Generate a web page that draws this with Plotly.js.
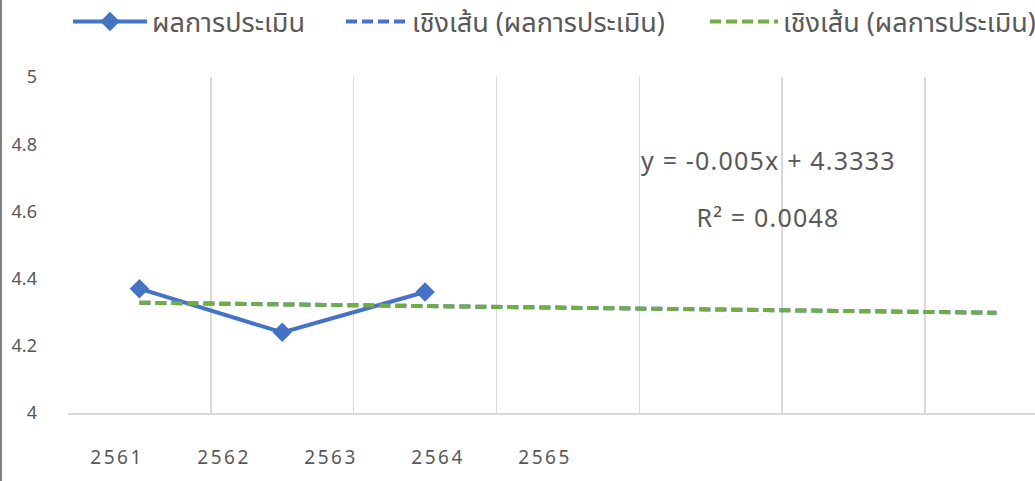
<!DOCTYPE html>
<html>
<head>
<meta charset="utf-8">
<script src="https://cdn.plot.ly/plotly-3.0.1.min.js"></script>
<style>
  html, body { margin: 0; padding: 0; background: #fff; }
  #chart { width: 1035px; height: 481px; }
  #edge { position: absolute; left: 0; top: 0; width: 2px; height: 481px; background: #7f7f7f; }
  #chart .x2tick text { letter-spacing: 2.5px; }
  #chart .annotation-text { letter-spacing: 1.2px; }
</style>
</head>
<body>
<div id="chart"></div>
<div id="edge"></div>
<script>
// ---- data ----
const years = ['2561', '2562', '2563', '2564', '2565'];
const yearPos = [1, 2, 3, 4, 5];
const scoreX = [1, 2, 3];
const scoreY = [4.37, 4.24, 4.36];
const trendX = [1, 7];
const trendY = [4.3283, 4.2983];
const seriesName = 'ผลการประเมิน';
const trendName = 'เชิงเส้น (ผลการประเมิน)';
const eqText = 'y = -0.005x + 4.3333';
const r2Text = 'R² = 0.0048';
const gridPos = [1.5, 2.5, 3.5, 4.5, 5.5, 6.5];

const FONT = 'Noto Sans, Noto Sans Thai, Tahoma, sans-serif';
const GREY = '#595959';
const BLUE = '#4472C4';
const GREEN = '#70AD47';

const traces = [
  {
    x: scoreX, y: scoreY, name: seriesName, type: 'scatter', mode: 'lines+markers',
    line: {color: BLUE, width: 4},
    marker: {symbol: 'diamond', size: 15, color: BLUE},
    legend: 'legend', hoverinfo: 'x+y'
  },
  {
    x: trendX, y: trendY, name: trendName, type: 'scatter', mode: 'lines',
    line: {color: BLUE, width: 4, dash: '11px,5px'},
    legend: 'legend2'
  },
  {
    x: trendX, y: trendY, name: trendName, type: 'scatter', mode: 'lines',
    line: {color: GREEN, width: 4, dash: '11px,5px'},
    legend: 'legend3'
  },
  { x: [], y: [], xaxis: 'x2', yaxis: 'y', showlegend: false, hoverinfo: 'skip', type: 'scatter' }
];

const legendBase = {
  orientation: 'h', xref: 'container', yref: 'container', yanchor: 'middle', y: 1 - 22/481,
  font: {family: FONT, size: 27, color: GREY}, bgcolor: 'rgba(0,0,0,0)', xanchor: 'left'
};

const layout = {
  width: 1035, height: 481,
  margin: {l: 68, r: 0, t: 77, b: 68},
  paper_bgcolor: '#fff', plot_bgcolor: '#fff',
  font: {family: FONT, color: GREY},
  showlegend: true,
  legend: Object.assign({}, legendBase, {x: 68/1035, itemwidth: 74}),
  legend2: Object.assign({}, legendBase, {x: 341/1035, itemwidth: 61}),
  legend3: Object.assign({}, legendBase, {x: 705/1035, itemwidth: 68}),
  xaxis: {
    range: [0.5, 7.27], tickmode: 'array', tickvals: gridPos, showticklabels: false,
    showgrid: true, gridcolor: '#d9d9d9', gridwidth: 1.5,
    showline: true, linecolor: '#d9d9d9', linewidth: 1.5, ticks: '', zeroline: false, fixedrange: true
  },
  xaxis2: {
    overlaying: 'x', anchor: 'y', side: 'bottom',
    range: [0.542, 9.579], tickmode: 'array', tickvals: yearPos, ticktext: years,
    showgrid: false, showline: false, zeroline: false, ticks: '',
    ticklabelstandoff: 31,
    tickfont: {family: FONT, size: 19, color: GREY}
  },
  yaxis: {
    range: [4, 5], dtick: 0.2, tick0: 4, showgrid: false, zeroline: false, showline: false,
    ticks: '', ticklabelstandoff: 30,
    tickfont: {family: FONT, size: 18, color: GREY}
  },
  annotations: [
    {xref: 'paper', yref: 'paper', x: (768-68)/967, y: (413-160)/336, text: eqText, showarrow: false,
     font: {family: FONT, size: 25, color: GREY}, xanchor: 'center', yanchor: 'middle'},
    {xref: 'paper', yref: 'paper', x: (768-68)/967, y: (413-217)/336, text: r2Text, showarrow: false,
     font: {family: FONT, size: 25, color: GREY}, xanchor: 'center', yanchor: 'middle'}
  ]
};

Plotly.newPlot('chart', traces, layout, {displayModeBar: false, staticPlot: true});
</script>
</body>
</html>
